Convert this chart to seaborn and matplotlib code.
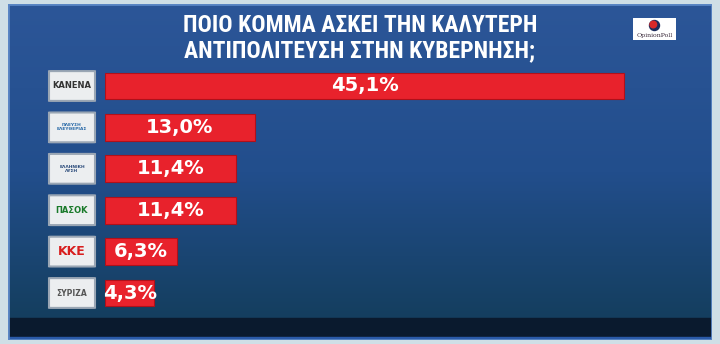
import numpy as np
import pandas as pd
import matplotlib
matplotlib.use("Agg")
import matplotlib.pyplot as plt
import seaborn as sns
from matplotlib import font_manager
from matplotlib.patches import FancyBboxPatch, Rectangle, Circle
from matplotlib.transforms import blended_transform_factory

# ---- data ----
parties = ["ΚΑΝΕΝΑ", "ΠΛΕΥΣΗ ΕΛΕΥΘΕΡΙΑΣ", "ΕΛΛΗΝΙΚΗ ΛΥΣΗ", "ΠΑΣΟΚ", "ΚΚΕ", "ΣΥΡΙΖΑ"]
logo_text = ["ΚΑΝΕΝΑ", "ΠΛΕΥΣΗ\nΕΛΕΥΘΕΡΙΑΣ", "ΕΛΛΗΝΙΚΗ\nΛΥΣΗ", "ΠΑΣΟΚ", "ΚΚΕ", "ΣΥΡΙΖΑ"]
values = [45.1, 13.0, 11.4, 11.4, 6.3, 4.3]
title_lines = ["ΠΟΙΟ ΚΟΜΜΑ ΑΣΚΕΙ ΤΗΝ ΚΑΛΥΤΕΡΗ", "ΑΝΤΙΠΟΛΙΤΕΥΣΗ ΣΤΗΝ ΚΥΒΕΡΝΗΣΗ;"]
source = "OpinionPoll"

df = pd.DataFrame({"party": parties, "value": values})

sns.set_theme(style="white")
plt.rcParams["font.family"] = ["DejaVu Sans"]

# find a condensed / narrow family if one is installed
names = {f.name for f in font_manager.fontManager.ttflist}
narrow = None
for cand in ["Liberation Sans Narrow", "Roboto Condensed", "Open Sans Condensed",
             "Noto Sans Condensed", "DejaVu Sans Condensed"]:
    if cand in names:
        narrow = cand
        break
if narrow is None:
    for n in sorted(names):
        if "Narrow" in n or "Condensed" in n:
            narrow = n
            break
title_family = [narrow, "DejaVu Sans"] if narrow else ["DejaVu Sans"]
title_size = 17 if narrow else 13

W, H = 720, 344
fig = plt.figure(figsize=(7.2, 3.44), dpi=100)
fig.patch.set_facecolor("#cfdfe6")

def fx(px):
    return px / W

def fy(py):
    return 1 - py / H

# background panel with gradient
bg = fig.add_axes([fx(8), fy(340), fx(712) - fx(8), fy(4) - fy(340)])
bg.set_axis_off()
grad = np.linspace(0, 1, 256)[:, None]
top = np.array([44, 86, 152]) / 255
mid = np.array([34, 78, 140]) / 255
bot = np.array([18, 60, 88]) / 255
cols = np.where(grad[..., None] < 0.5,
                top + (mid - top) * (grad[..., None] / 0.5),
                mid + (bot - mid) * ((grad[..., None] - 0.5) / 0.5))
cols = np.repeat(cols, 4, axis=1)
bg.imshow(cols, aspect="auto", extent=[0, 1, 0, 1], origin="upper")
bg.set_xlim(0, 1)
bg.set_ylim(0, 1)
bg.add_patch(Rectangle((0, 0), 1, (340 - 318) / 336, color="#0a1a2e", zorder=2))
bg.add_patch(Rectangle((0, 0), 1, 3 / 336, color="#2a5aa8", zorder=3))
bg.add_patch(Rectangle((0, 0), 1, 1, fill=False, edgecolor="#5a86c4", lw=2, zorder=4))

# title
for i, line in enumerate(title_lines):
    fig.text(0.5, fy(25 + i * 26), line, ha="center", va="center", color="white",
             fontsize=title_size, fontweight="bold", family=title_family)

# OpinionPoll logo
lg = fig.add_axes([fx(633), fy(40), fx(43), (40 - 18) / H])
lg.set_xlim(0, 43)
lg.set_ylim(0, 22)
lg.set_axis_off()
lg.add_patch(Rectangle((0, 0), 43, 22, color="white"))
lg.add_patch(Circle((21.5, 14.5), 5, color="#1c2c5c"))
lg.add_patch(Circle((20.3, 15.5), 3.3, color="#d82828"))
lg.text(21.5, 4.5, source, ha="center", va="center", fontsize=4.5,
        color="#3a2a3a", family=["DejaVu Serif"])

# main bar chart
ax = fig.add_axes([fx(105), fy(313.7), fx(700) - fx(105), 248.4 / H])
ax.patch.set_alpha(0)
sns.barplot(data=df, x="value", y="party", orient="h", color="#e8222c",
            saturation=1, width=0.65, ax=ax, edgecolor="#b0101a", linewidth=0.8)
ax.set_xlim(0, 45.1 * 595 / 519)
ax.set_ylim(5.5, -0.5)
ax.set_axis_off()

for i, v in enumerate(values):
    lab = f"{v:.1f}".replace(".", ",") + "%"
    ax.text(v / 2, i, lab, ha="center", va="center", color="white",
            fontsize=14, fontweight="bold", family=["DejaVu Sans"])

# party logo boxes
tr = blended_transform_factory(fig.transFigure, ax.transData)
logo_colors = ["#333333", "#2a6aa8", "#2a4a7a", "#1a7a2a", "#d81e1e", "#555555"]
logo_sizes = [6, 3.2, 3.2, 6, 9, 5.5]
for i, (t, c, s) in enumerate(zip(logo_text, logo_colors, logo_sizes)):
    box = FancyBboxPatch((fx(49), i - 0.36), fx(46), 0.72,
                         boxstyle="round,pad=0,rounding_size=0.004",
                         transform=tr, facecolor="#eceef0", edgecolor="#9aa6b4",
                         lw=1.5, clip_on=False, zorder=5)
    ax.add_patch(box)
    ax.text(fx(72), i, t, transform=tr, ha="center", va="center", fontsize=s,
            color=c, fontweight="bold", zorder=6, linespacing=1.0,
            family=["DejaVu Sans"])

fig.savefig("out.png", dpi=100)
